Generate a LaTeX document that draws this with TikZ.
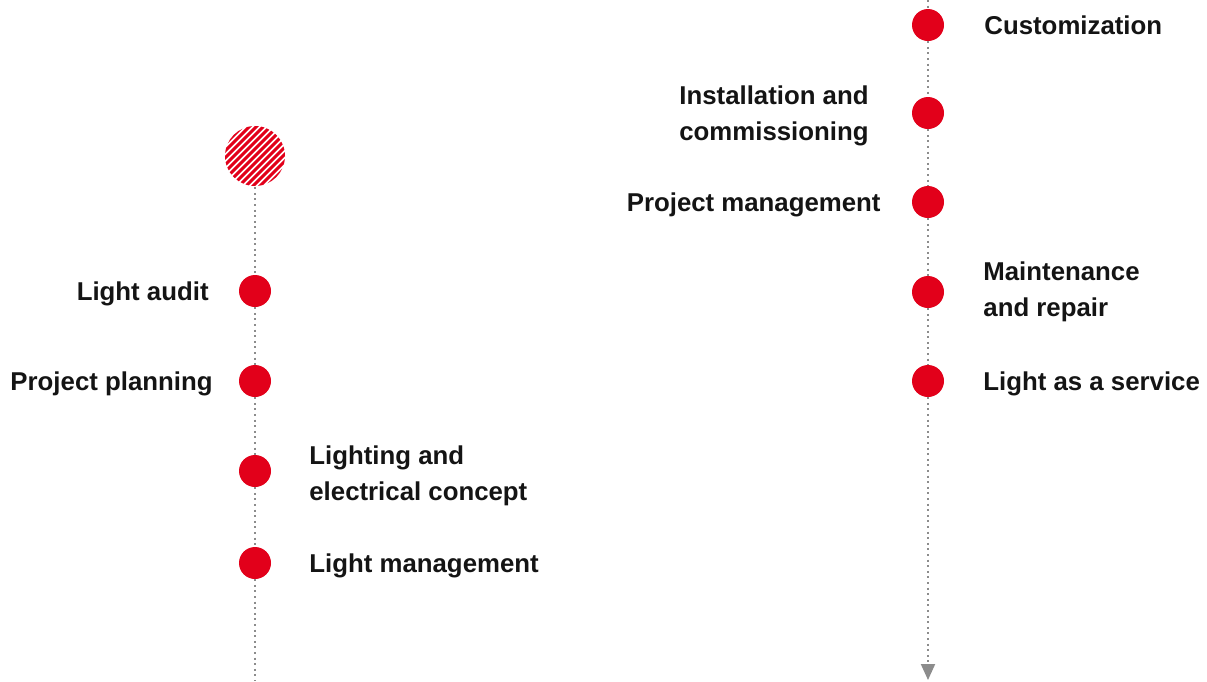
\documentclass[tikz,border=0pt]{standalone}
\usepackage{fontspec}
\setmainfont{Liberation Sans}
\usetikzlibrary{positioning,arrows.meta,calc}
\definecolor{stepred}{RGB}{226,0,26}
\definecolor{railgray}{RGB}{140,140,140}
\definecolor{txt}{RGB}{20,20,20}
\tikzstyle{stepdot} = [circle, fill=stepred, minimum size=32pt, inner sep=0pt]
\tikzstyle{steptext} = [inner sep=0pt, yshift=-3pt, font=\fontsize{25.8}{36}\selectfont\bfseries, text=txt]
\tikzstyle{rail} = [railgray, line width=2pt, dash pattern=on 2pt off 3.6pt]
\tikzstyle{railarrow} = [rail, -{Triangle[width=14pt,length=16pt]}]

\begin{document}
\begin{tikzpicture}[x=1pt,y=-1pt]
\useasboundingbox (0,0) rectangle (1207,681);

% left timeline
\node (start) [circle, minimum size=62pt, inner sep=0pt] at (255,156) {};
\node (audit) [stepdot] at (255,291) {};
\node (planning) [stepdot] at (255,381) {};
\node (concept) [stepdot] at (255,471) {};
\node (lightmgmt) [stepdot] at (255,563) {};
\coordinate (leftend) at (255,681);

\node (audittxt) [steptext, left=30pt of audit] {Light audit};
\node (planningtxt) [steptext, left=26pt of planning] {Project planning};
\node (concepttxt) [steptext, align=left, right=38pt of concept, yshift=-2pt] {Lighting and\\electrical concept};
\node (lightmgmttxt) [steptext, right=38pt of lightmgmt] {Light management};

% right timeline
\coordinate (righttop) at (928,0);
\node (custom) [stepdot] at (928,25) {};
\node (install) [stepdot] at (928,113) {};
\node (projmgmt) [stepdot] at (928,202) {};
\node (maint) [stepdot] at (928,292) {};
\node (service) [stepdot] at (928,381) {};
\coordinate (rightend) at (928,680);

\node (customtxt) [steptext, right=40pt of custom, yshift=3pt] {Customization};
\node (installtxt) [steptext, align=right, left=43pt of install] {Installation and\\commissioning};
\node (projmgmttxt) [steptext, left=31pt of projmgmt] {Project management};
\node (mainttxt) [steptext, align=left, right=39pt of maint, yshift=3pt] {Maintenance\\and repair};
\node (servicetxt) [steptext, right=39pt of service] {Light as a service};

% rails
\draw [rail] (start) -- (audit);
\draw [rail] (audit) -- (planning);
\draw [rail] (planning) -- (concept);
\draw [rail] (concept) -- (lightmgmt);
\draw [rail] (lightmgmt) -- (leftend);

\draw [rail] (righttop) -- (custom);
\draw [rail] (custom) -- (install);
\draw [rail] (install) -- (projmgmt);
\draw [rail] (projmgmt) -- (maint);
\draw [rail] (maint) -- (service);
\draw [railarrow] (service) -- (rightend);

% hatched start circle
\begin{scope}
\clip (start.center) circle (30pt);
\foreach \i in {-84,-77,...,84}
  \draw [stepred, line width=3pt] ($(start.center)+(\i-40,40)$) -- ++(80,-80);
\end{scope}

\end{tikzpicture}
\end{document}
